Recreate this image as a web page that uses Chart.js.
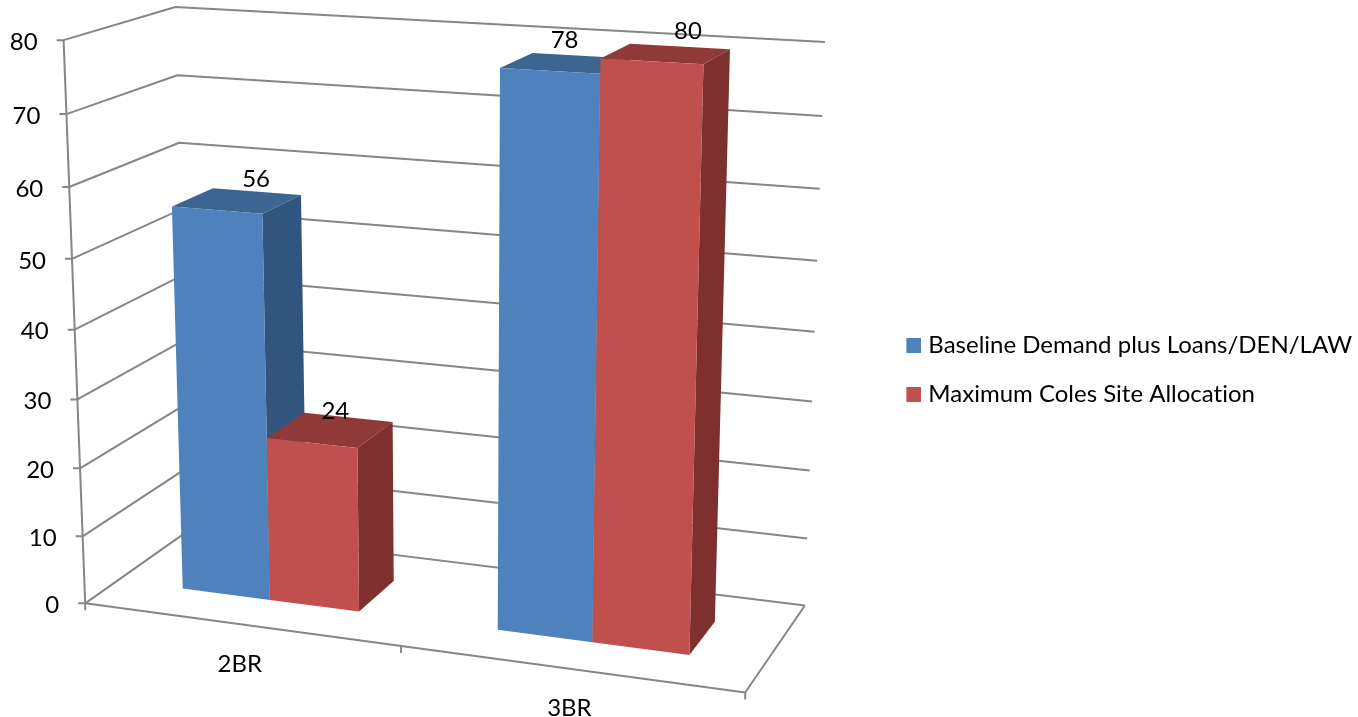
<!DOCTYPE html>
<html>
<head>
<meta charset="utf-8">
<title>2BR / 3BR allocation</title>
<script src="https://cdn.jsdelivr.net/npm/chart.js@4/dist/chart.umd.min.js"></script>
<style>
  html, body { margin: 0; background: #fff; }
  canvas { display: block; }
</style>
</head>
<body>
<canvas id="chart" width="1358" height="717"></canvas>
<script>
// Chart data
const categories = ['2BR', '3BR'];
const baselineDemand = [56, 78];
const colesAllocation = [24, 80];
const valueTicks = { min: 0, max: 80, stepSize: 10 };

const FONT = 'Lato, Carlito, sans-serif';
const FONT_SIZE = 24;
const GRID = '#868686';
const faces = [
  { front: '#4f81bd', top: '#3d6592', side: '#32557f' },
  { front: '#c0504d', top: '#8f3a38', side: '#7d302e' }
];

// Where the corners of the plot box land on screen: [u, v, w] -> [x, y]
// u runs along the categories, v up the value axis, w back into the page
const boxCorners = [
  [[0, 0, 0], [85, 603]],
  [[0, 1, 0], [64, 40]],
  [[0, 1, 1], [175, 7]],
  [[0, 0, 1], [190, 530]],
  [[1, 1, 1], [825, 42]],
  [[1, 0, 1], [805, 605]],
  [[1, 0, 0], [745, 693]]
];
const barFront = 0.3, barBack = 0.69;

// Data label nudges per series and category, px
const labelShift = [[[19, 1], [-1, -1]], [[5, 3], [22, 0]]];

// Gaussian elimination, good enough for the small system below
function solve(A, b) {
  const n = b.length;
  const m = A.map((row, i) => [...row, b[i]]);
  for (let c = 0; c < n; c++) {
    let p = c;
    for (let r = c + 1; r < n; r++) if (Math.abs(m[r][c]) > Math.abs(m[p][c])) p = r;
    [m[c], m[p]] = [m[p], m[c]];
    for (let r = 0; r < n; r++) {
      if (r === c) continue;
      const f = m[r][c] / m[c][c];
      for (let k = c; k <= n; k++) m[r][k] -= f * m[c][k];
    }
  }
  return m.map((row, i) => row[n] / row[i]);
}

// Least squares fit of the perspective camera through the corners
function fitCamera(corners) {
  const rows = [], rhs = [];
  corners.forEach(([[u, v, w], [x, y]]) => {
    rows.push([u, v, w, 1, 0, 0, 0, 0, -x * u, -x * v, -x * w]);
    rhs.push(x);
    rows.push([0, 0, 0, 0, u, v, w, 1, -y * u, -y * v, -y * w]);
    rhs.push(y);
  });
  const n = 11;
  const AtA = Array.from({ length: n }, (_, i) =>
    Array.from({ length: n }, (_, j) => rows.reduce((s, r) => s + r[i] * r[j], 0)));
  const Atb = Array.from({ length: n }, (_, i) => rows.reduce((s, r, k) => s + r[i] * rhs[k], 0));
  return solve(AtA, Atb);
}

const cam = fitCamera(boxCorners);
function project(u, v, w) {
  const d = cam[8] * u + cam[9] * v + cam[10] * w + 1;
  return [
    (cam[0] * u + cam[1] * v + cam[2] * w + cam[3]) / d,
    (cam[4] * u + cam[5] * v + cam[6] * w + cam[7]) / d
  ];
}

function line(ctx, pts) {
  ctx.beginPath();
  pts.forEach((p, i) => (i ? ctx.lineTo(p[0], p[1]) : ctx.moveTo(p[0], p[1])));
  ctx.stroke();
}

function poly(ctx, pts, color) {
  ctx.fillStyle = color;
  ctx.beginPath();
  pts.forEach((p, i) => (i ? ctx.lineTo(p[0], p[1]) : ctx.moveTo(p[0], p[1])));
  ctx.closePath();
  ctx.fill();
}

// Legend swatch: 15px square with blank space on the left, the legend centres
// this on a 10px box which leaves the text 7px from the square
function swatch(color) {
  const c = document.createElement('canvas');
  c.width = 20;
  c.height = 15;
  const g = c.getContext('2d');
  g.fillStyle = color;
  g.fillRect(5, 0, 15, 15);
  return c;
}

// Walls, floor, ticks and axis labels
function drawFrame(chart) {
  const { ctx } = chart;
  const yScale = chart.scales.y;
  const area = chart.chartArea;
  ctx.save();
  ctx.strokeStyle = GRID;
  ctx.lineWidth = 2;
  ctx.lineJoin = 'round';
  ctx.fillStyle = '#000';
  ctx.font = FONT_SIZE + 'px ' + FONT;
  ctx.textBaseline = 'middle';

  yScale.ticks.forEach(t => {
    const v = (area.bottom - yScale.getPixelForValue(t.value)) / area.height;
    const a = project(0, v, 0);
    line(ctx, [[a[0] - 7, a[1]], a, project(0, v, 1), project(1, v, 1)]);
    ctx.textAlign = 'right';
    ctx.fillText(String(t.value), a[0] - 26, a[1] + 2);
  });

  line(ctx, [project(0, 1, 0), project(0, 0, 0), project(1, 0, 0), project(1, 0, 1)]);

  // category ticks fall on the category boundaries
  const nCat = categories.length;
  for (let i = 0; i <= nCat; i++) {
    const p = project(i / nCat, 0, 0);
    line(ctx, [p, [p[0], p[1] + 7]]);
  }
  chart.scales.x.getLabels().forEach((label, i) => {
    const u = (chart.scales.x.getPixelForValue(i) - area.left) / area.width;
    const p = project(u, 0, 0);
    ctx.textAlign = 'center';
    ctx.fillText(label, p[0], p[1] + 40);
  });
  ctx.restore();
}

// One bar as three visible faces, its value comes through the chart's own elements
function drawBar(chart, el, style) {
  const { ctx, chartArea: area } = chart;
  const u0 = (el.x - el.width / 2 - area.left) / area.width;
  const u1 = (el.x + el.width / 2 - area.left) / area.width;
  const v = (area.bottom - el.y) / area.height;
  const z0 = barFront, z1 = barBack;
  poly(ctx, [project(u0, v, z0), project(u1, v, z0), project(u1, v, z1), project(u0, v, z1)], style.top);
  poly(ctx, [project(u1, 0, z0), project(u1, 0, z1), project(u1, v, z1), project(u1, v, z0)], style.side);
  poly(ctx, [project(u0, 0, z0), project(u1, 0, z0), project(u1, v, z0), project(u0, v, z0)], style.front);
}

const box3d = {
  id: 'box3d',
  // no "ti" ligature in the Lato labels
  beforeUpdate(chart) {
    chart.ctx.textRendering = 'optimizeSpeed';
  },
  // replaces the flat bars, so the stock dataset drawing is cancelled
  beforeDatasetsDraw(chart) {
    const { ctx, chartArea: area } = chart;
    drawFrame(chart);
    const metas = chart.data.datasets.map((_, i) => chart.getDatasetMeta(i));
    categories.forEach((_, c) => {
      metas.forEach((meta, s) => drawBar(chart, meta.data[c], faces[s]));
    });
    ctx.save();
    ctx.fillStyle = '#000';
    ctx.font = FONT_SIZE + 'px ' + FONT;
    ctx.textAlign = 'center';
    ctx.textBaseline = 'middle';
    metas.forEach((meta, s) => {
      meta.data.forEach((el, c) => {
        const u = (el.x - area.left) / area.width;
        const v = (area.bottom - el.y) / area.height;
        const p = project(u, v, (barFront + barBack) / 2);
        const shift = labelShift[s][c];
        ctx.fillText(String(chart.data.datasets[s].data[c]), p[0] + shift[0], p[1] - 22 + shift[1]);
      });
    });
    ctx.restore();
    return false;
  }
};

new Chart(document.getElementById('chart'), {
  type: 'bar',
  data: {
    labels: categories,
    datasets: [
      { label: 'Baseline Demand plus Loans/DEN/LAW', data: baselineDemand, backgroundColor: faces[0].front },
      { label: 'Maximum Coles Site Allocation', data: colesAllocation, backgroundColor: faces[1].front }
    ]
  },
  plugins: [box3d],
  options: {
    responsive: false,
    animation: false,
    layout: { padding: { top: 22, right: -4 } },
    datasets: { bar: { categoryPercentage: 0.57, barPercentage: 1 } },
    scales: {
      x: { display: false },
      y: { display: false, min: valueTicks.min, max: valueTicks.max, ticks: { stepSize: valueTicks.stepSize } }
    },
    plugins: {
      tooltip: { enabled: false },
      legend: {
        position: 'right',
        labels: {
          usePointStyle: true,
          pointStyleWidth: 10,
          padding: 25,
          color: '#000',
          font: { family: FONT, size: FONT_SIZE },
          generateLabels(chart) {
            return Chart.defaults.plugins.legend.labels.generateLabels(chart).map((item, i) => ({
              ...item,
              pointStyle: swatch(faces[i].front)
            }));
          }
        }
      }
    }
  }
});
</script>
</body>
</html>
